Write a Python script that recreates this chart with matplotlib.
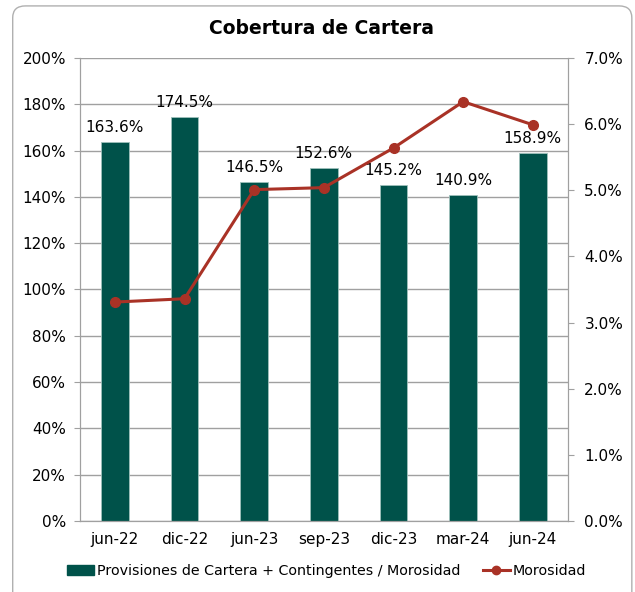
import matplotlib
matplotlib.use("Agg")
import matplotlib.pyplot as plt
from matplotlib.patches import FancyBboxPatch
from matplotlib.lines import Line2D
from matplotlib.patches import Patch

periods = ["jun-22", "dic-22", "jun-23", "sep-23", "dic-23", "mar-24", "jun-24"]
coverage = [163.6, 174.5, 146.5, 152.6, 145.2, 140.9, 158.9]
delinquency = [3.31, 3.36, 5.01, 5.04, 5.64, 6.34, 5.99]

bar_color = "#00524A"
line_color = "#A93226"
grid_color = "#A0A0A0"

plt.rcParams["font.family"] = ["DejaVu Sans"]

fig = plt.figure(figsize=(6.35, 5.92), dpi=100)
fig.patches.append(FancyBboxPatch((0.02, -0.05), 0.975, 1.04, boxstyle="round,pad=0,rounding_size=0.02",
                                  transform=fig.transFigure, fill=False, edgecolor="#B0B0B0", lw=1.0))

ax = fig.add_axes([0.126, 0.120, 0.768, 0.782])
x = list(range(len(periods)))
ax.bar(x, coverage, width=0.4, color=bar_color, edgecolor="#9FC0BB", linewidth=0.6, zorder=2)
for xi, v in zip(x, coverage):
    ax.text(xi, v + 3, f"{v:.1f}%", ha="center", va="bottom", fontsize=11)

ax.set_ylim(0, 200)
ax.set_xlim(-0.5, len(periods) - 0.5)
ax.set_yticks(range(0, 201, 20))
ax.set_yticklabels([f"{t}%" for t in range(0, 201, 20)], fontsize=11)
ax.set_xticks(x)
ax.set_xticklabels(periods, fontsize=11)
ax.tick_params(axis="x", length=0, pad=8)
ax.tick_params(axis="y", length=4, color=grid_color, pad=6)
ax.grid(axis="y", color=grid_color, linewidth=1, zorder=0)
for s in ax.spines.values():
    s.set_color(grid_color)
ax.spines["top"].set_visible(False)

ax2 = ax.twinx()
ax2.plot(x, delinquency, color=line_color, linewidth=2.2, marker="o", markersize=7, zorder=3)
ax2.set_ylim(0, 7)
ax2.set_yticks([i for i in range(8)])
ax2.set_yticklabels([f"{i:.1f}%" for i in range(8)], fontsize=11)
ax2.tick_params(axis="y", length=4, color=grid_color, pad=8)
for s in ax2.spines.values():
    s.set_color(grid_color)
ax2.spines["top"].set_visible(False)

fig.text(0.507, 0.952, "Cobertura de Cartera", ha="center", va="center", fontsize=13.5, fontweight="bold")

handles = [Patch(color=bar_color, label="Provisiones de Cartera + Contingentes / Morosidad"),
           Line2D([], [], color=line_color, lw=2.2, marker="o", markersize=6, label="Morosidad")]
fig.legend(handles=handles, loc="center", bbox_to_anchor=(0.514, 0.036), ncol=2, frameon=False,
           fontsize=10.3, handlelength=1.9, handletextpad=0.15, columnspacing=1.6)

fig.savefig("out.png", dpi=100)
